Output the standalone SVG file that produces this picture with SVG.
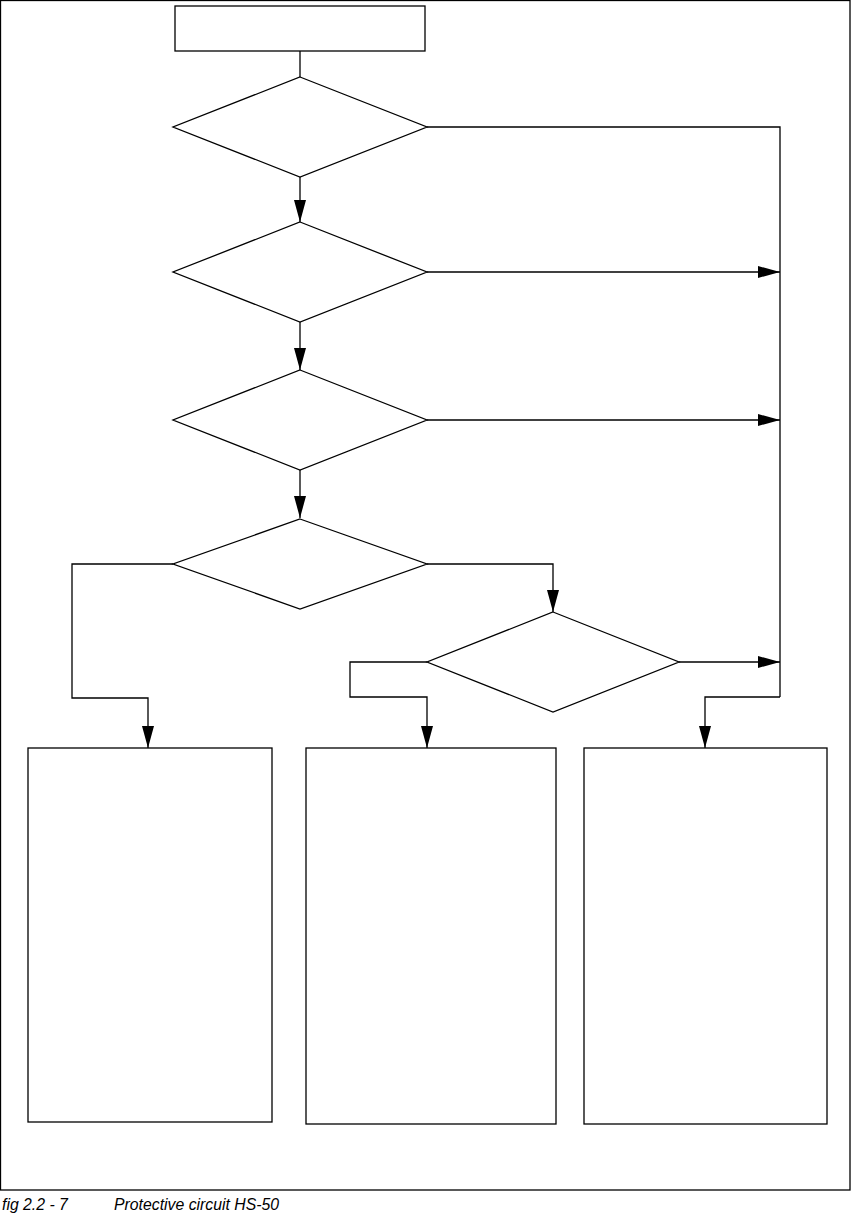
<svg xmlns="http://www.w3.org/2000/svg" width="851" height="1214" viewBox="0 0 851 1214">
<style>
.s{fill:none;stroke:#000;stroke-width:1.3}
.n{fill:#fff;stroke:#000;stroke-width:1.3}
.c{fill:none;stroke:#000;stroke-width:1.3}
.a{marker-end:url(#ah)}
.cap{font-family:"Liberation Sans",Arial,sans-serif;font-style:italic;font-size:15.8px;fill:#000}
</style>
<defs>
<marker id="ah" markerUnits="userSpaceOnUse" markerWidth="22" markerHeight="12" refX="22" refY="6" orient="auto" overflow="visible">
<path d="M0,0 L22,6 L0,12 Z" fill="#000"/>
</marker>
</defs>
<rect class="s" x="0.5" y="0.5" width="849.5" height="1189.5"/>
<g id="connectors">
<path class="c" d="M300,51 V77"/>
<path class="c a" d="M300,177 V222"/>
<path class="c a" d="M300,322 V370"/>
<path class="c a" d="M300,470 V518"/>
<path class="c" d="M427,127 H780 V697"/>
<path class="c a" d="M427,272 H780"/>
<path class="c a" d="M427,420 H780"/>
<path class="c a" d="M679,662 H780"/>
<path class="c a" d="M780,697 H705 V748"/>
<path class="c a" d="M173,564 H72 V698 H148 V748"/>
<path class="c a" d="M427,564 H553 V612"/>
<path class="c a" d="M427,662 H350 V697 H427 V748"/>
</g>
<g id="start"><rect class="n" x="175" y="6" width="250" height="45"/></g>
<g id="d1"><polygon class="n" points="300,77 427,127 300,177 173,127"/></g>
<g id="d2"><polygon class="n" points="300,222 427,272 300,322 173,272"/></g>
<g id="d3"><polygon class="n" points="300,370 427,420 300,470 173,420"/></g>
<g id="d4"><polygon class="n" points="300,519 427,564 300,609 173,564"/></g>
<g id="d5"><polygon class="n" points="553,612 679,662 553,712 427,662"/></g>
<g id="box1"><rect class="n" x="28" y="748" width="244" height="374"/></g>
<g id="box2"><rect class="n" x="306" y="748" width="250" height="376"/></g>
<g id="box3"><rect class="n" x="584" y="748" width="243" height="376"/></g>
<g id="caption">
<text class="cap" x="2" y="1210">fig 2.2 - 7</text>
<text class="cap" x="114" y="1210">Protective circuit HS-50</text>
</g>
</svg>
